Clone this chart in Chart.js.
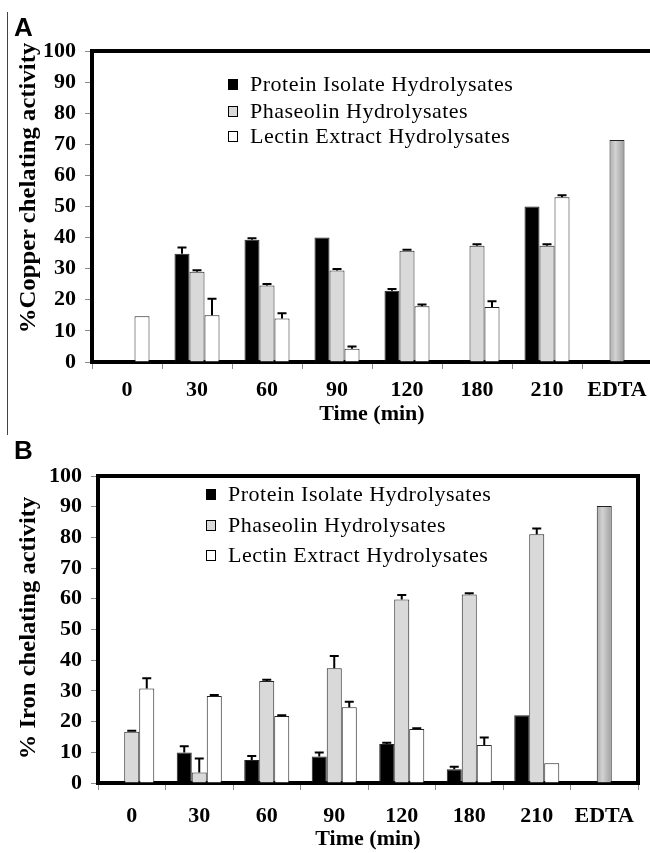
<!DOCTYPE html>
<html>
<head>
<meta charset="utf-8">
<script src="https://cdn.jsdelivr.net/npm/chart.js@4.4.0/dist/chart.umd.min.js"></script>
<style>
  html, body { margin: 0; padding: 0; background: #fff; width: 650px; height: 853px; overflow: hidden; position: relative; }
  .panel { position: absolute; left: 0; }
  #wrapA { top: 0; width: 660px; height: 430px; }
  #wrapB { top: 430px; width: 650px; height: 423px; }
  .tag { position: absolute; font: bold 26px "Liberation Sans", Arial, sans-serif; line-height: 1; }
  .ytitle { position: absolute; font: bold 23px "Liberation Serif", "Times New Roman", serif; white-space: nowrap;
    transform: translate(-50%, -50%) rotate(-90deg); line-height: 1; }
  .legend { position: absolute; top: 0; font: 22px "Liberation Serif", "Times New Roman", serif; letter-spacing: 0.5px; color: #000; }
  .legend .row { position: absolute; left: 0; display: flex; align-items: center; white-space: nowrap; transform: translateY(-50%); }
  .legend .sw { width: 8px; height: 9px; border: 1px solid #000; margin-right: 12px; }
  #rule { position: absolute; left: 7px; top: 12px; width: 1px; height: 423px; background: #444; }
</style>
</head>
<body>
<div id="rule"></div>
<div class="panel" id="wrapA"><canvas id="chartA"></canvas></div>
<div class="panel" id="wrapB"><canvas id="chartB"></canvas></div>
<div class="tag" style="left:14px; top:14px;">A</div>
<div class="tag" style="left:14px; top:437px;">B</div>
<div class="ytitle" id="titleA" style="left:27px; top:188px;">%Copper chelating activity</div>
<div class="ytitle" id="titleB" style="left:27px; top:628px;">% Iron chelating activity</div>
<div class="legend" id="legendA" style="left:228px;"></div>
<div class="legend" id="legendB" style="left:206px;"></div>
<script>
const categories = ["0", "30", "60", "90", "120", "180", "210", "EDTA"];
const seriesNames = ["Protein Isolate Hydrolysates", "Phaseolin Hydrolysates", "Lectin Extract Hydrolysates"];
const seriesColors = ["#000000", "#d9d9d9", "#ffffff"];
const edtaShades = ["#a9a9a9", "#d2d2d2", "#9a9a9a"];
const yTicks = [0, 10, 20, 30, 40, 50, 60, 70, 80, 90, 100];

// panel A: copper chelating
const copperProtein = [null, 34.8, 39.3, 40.0, 22.9, null, 50.0, null];
const copperProteinErr = [0, 2.0, 0.5, 0, 0.6, 0, 0, 0];
const copperPhaseolin = [null, 29.0, 24.6, 29.4, 35.8, 37.4, 37.4, 71.4];
const copperPhaseolinErr = [0, 0.5, 0.5, 0.5, 0.3, 0.5, 0.5, 0];
const copperLectin = [14.7, 15.0, 14.0, 4.3, 17.9, 17.7, 53.0, null];
const copperLectinErr = [0, 5.3, 1.7, 0.7, 0.6, 1.8, 0.6, 0];

// panel B: iron chelating
const ironProtein = [null, 9.9, 7.5, 8.6, 12.7, 4.5, 22.1, null];
const ironProteinErr = [0, 2.1, 1.3, 1.3, 0.4, 0.8, 0, 0];
const ironPhaseolin = [16.7, 3.4, 33.2, 37.4, 59.8, 61.4, 81.0, 90.2];
const ironPhaseolinErr = [0.3, 4.6, 0.4, 4.0, 1.4, 0.4, 1.9, 0];
const ironLectin = [30.8, 28.3, 21.8, 24.7, 17.6, 12.4, 6.4, null];
const ironLectinErr = [3.3, 0.4, 0.3, 1.8, 0.2, 2.4, 0, 0];

const serif = "'Liberation Serif', 'Times New Roman', serif";

// thick black frame round the plot area
const framePlugin = {
  id: "frame",
  beforeDatasetsDraw(chart) {
    const { ctx, chartArea: a } = chart;
    ctx.save();
    ctx.strokeStyle = "#000";
    ctx.lineWidth = 4;
    ctx.strokeRect(a.left, a.top, a.right - a.left, a.bottom - a.top);
    ctx.restore();
  },
};

// upward-only error bars with caps
const errorBarPlugin = {
  id: "errbars",
  afterDatasetsDraw(chart) {
    const { ctx } = chart;
    const y = chart.scales.y;
    ctx.save();
    ctx.strokeStyle = "#000";
    ctx.lineWidth = 2;
    chart.data.datasets.forEach((ds, di) => {
      const meta = chart.getDatasetMeta(di);
      meta.data.forEach((bar, i) => {
        const v = ds.data[i];
        const e = ds.errors[i];
        if (v == null || !e) return;
        const top = y.getPixelForValue(v + e);
        const base = y.getPixelForValue(v);
        ctx.beginPath();
        ctx.moveTo(bar.x, base);
        ctx.lineTo(bar.x, top);
        ctx.moveTo(bar.x - 4.5, top);
        ctx.lineTo(bar.x + 4.5, top);
        ctx.stroke();
      });
    });
    ctx.restore();
  },
};

// EDTA bar: shaded grey, like the 3-D look of the original
function barColor(k) {
  return (c) => {
    if (categories[c.dataIndex] !== "EDTA") return seriesColors[k];
    const chart = c.chart;
    if (!chart.chartArea) return edtaShades[1];
    const cx = chart.scales.x.getPixelForValue(c.dataIndex);
    const g = chart.ctx.createLinearGradient(cx - 8, 0, cx + 8, 0);
    g.addColorStop(0, edtaShades[0]);
    g.addColorStop(0.4, edtaShades[1]);
    g.addColorStop(1, edtaShades[2]);
    return g;
  };
}

function makeChart(canvasId, values, errors, cfg) {
  const datasets = values.map((vals, k) => ({
    label: seriesNames[k],
    data: vals,
    errors: errors[k],
    backgroundColor: barColor(k),
    borderColor: "#222",
    borderWidth: 1,
    borderSkipped: "bottom",
    categoryPercentage: cfg.catPct,
    barPercentage: 1.0,
  }));

  return new Chart(document.getElementById(canvasId), {
    type: "bar",
    data: { labels: categories, datasets },
    plugins: [framePlugin, errorBarPlugin],
    options: {
      responsive: true,
      maintainAspectRatio: false,
      animation: false,
      layout: { padding: { top: cfg.top, right: cfg.right, left: 0, bottom: 0 } },
      plugins: { legend: { display: false }, tooltip: { enabled: false } },
      scales: {
        x: {
          offset: true,
          grid: { offset: true, drawOnChartArea: false, drawTicks: true, tickLength: 7, color: "#8a8a8a" },
          border: { display: true, color: "#8a8a8a" },
          ticks: { color: "#000", font: { family: serif, weight: "bold", size: 22 }, padding: cfg.xPad, maxRotation: 0, autoSkip: false },
          title: { display: true, text: "Time (min)", color: "#000", font: { family: serif, weight: "bold", size: 22 }, padding: { top: 0, bottom: cfg.titlePad } },
          afterFit: (s) => { s.height = cfg.xHeight; },
        },
        y: {
          min: 0,
          max: 100,
          afterBuildTicks: (s) => { s.ticks = yTicks.map((v) => ({ value: v })); },
          grid: { drawOnChartArea: false, drawTicks: true, tickLength: 7, color: "#8a8a8a" },
          border: { display: true, color: "#8a8a8a" },
          ticks: { color: "#000", font: { family: serif, weight: "bold", size: 22 }, padding: 9 },
          afterFit: (s) => { s.width = cfg.yWidth; },
        },
      },
    },
  });
}

function buildLegend(id, rowsY) {
  const el = document.getElementById(id);
  el.innerHTML = seriesNames
    .map((name, k) =>
      `<div class="row" style="top:${rowsY[k]}px"><span class="sw" style="background:${seriesColors[k]}"></span>${name}</div>`)
    .join("");
}

// stretch the rotated axis titles to the length they have in the figure
function fitTitle(id, length) {
  const el = document.getElementById(id);
  const k = length / el.offsetWidth;
  el.style.transform = `translate(-50%, -50%) rotate(-90deg) scaleX(${k})`;
}

makeChart("chartA", [copperProtein, copperPhaseolin, copperLectin],
  [copperProteinErr, copperPhaseolinErr, copperLectinErr],
  { top: 51, right: 8, yWidth: 92, xHeight: 68, xPad: 8, titlePad: 2, catPct: 0.643 });
makeChart("chartB", [ironProtein, ironPhaseolin, ironLectin],
  [ironProteinErr, ironPhaseolinErr, ironLectinErr],
  { top: 46, right: 12, yWidth: 98, xHeight: 70, xPad: 13, titlePad: 0, catPct: 0.667 });

buildLegend("legendA", [84, 111, 136]);
buildLegend("legendB", [494, 525, 555]);
fitTitle("titleA", 290);
fitTitle("titleB", 263);
</script>
</body>
</html>
